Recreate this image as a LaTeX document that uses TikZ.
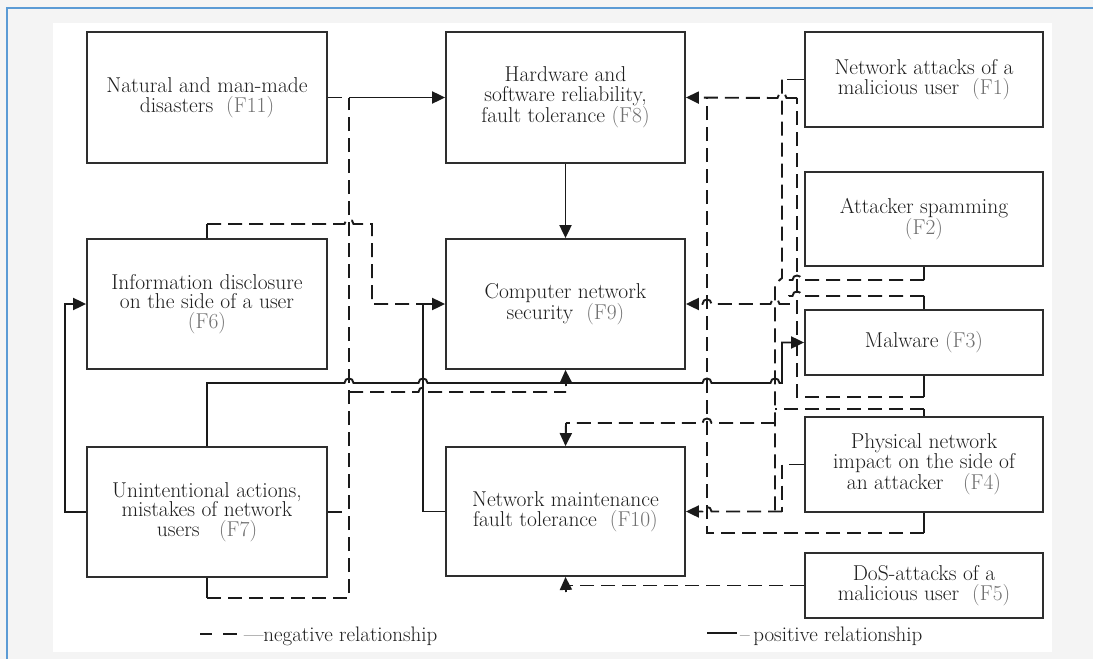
\documentclass[tikz,border=0pt]{standalone}
\usetikzlibrary{arrows.meta}
\definecolor{bgray}{HTML}{F4F4F4}
\definecolor{bluel}{HTML}{5B9BD5}
\definecolor{linec}{HTML}{1A1A1A}
\definecolor{boxc}{HTML}{2E2E2E}
\definecolor{txt}{HTML}{1E1E1E}
\definecolor{lab}{HTML}{707070}
\newcommand\flab[1]{\textcolor{lab}{(#1)}}
\newcommand\hopR[2]{-- (#1-4.5,#2) .. controls (#1-4.5,#2-6) and (#1+4.5,#2-6) .. (#1+4.5,#2)}
\newcommand\hopL[2]{-- (#1+4.5,#2) .. controls (#1+4.5,#2-6) and (#1-4.5,#2-6) .. (#1-4.5,#2)}
\tikzset{
  box/.style={draw=boxc, line width=1.8pt, fill=white, inner sep=0pt, align=center,
    text=txt, font=\fontsize{21.5}{19.5}\selectfont},
  posl/.style={draw=linec, line width=1.9pt},
  negl/.style={posl, dash pattern=on 14pt off 7pt},
  arr/.style={-{Triangle[length=13pt,width=12pt]}},
  legtext/.style={text=txt, font=\fontsize{21}{21}\selectfont, inner sep=0pt}
}
\begin{document}
\begin{tikzpicture}[x=1pt,y=-1pt]
\useasboundingbox (0,0) rectangle (1093,659);
\fill[bgray] (0,0) rectangle (1093,659);
\fill[white] (53,23) rectangle (1052,652);
\draw[bluel, line width=1.5pt] (7,659) -- (7,8) -- (1093,8);

% boxes
\node[box, minimum width=240pt, minimum height=131pt] (f11) at (207,97.5) {Natural and man-made\\disasters\ \ \flab{F11}};
\node[box, minimum width=240pt, minimum height=130pt] (f6) at (207,304) {Information disclosure\\on the side of a user\\\flab{F6}};
\node[box, minimum width=240pt, minimum height=130pt] (f7) at (207,512) {Unintentional actions,\\mistakes of network\\users\ \ \ \flab{F7}};
\node[box, minimum width=239pt, minimum height=131pt] (f8) at (565.5,97.5) {Hardware and\\software reliability,\\fault tolerance \flab{F8}};
\node[box, minimum width=239pt, minimum height=130pt] (f9) at (565.5,304) {Computer network\\security\ \ \flab{F9}};
\node[box, minimum width=239pt, minimum height=129pt] (f10) at (565.5,511.5) {Network maintenance\\fault tolerance\ \ \flab{F10}};
\node[box, minimum width=238pt, minimum height=95pt] (f1) at (924,79.5) {Network attacks of a\\malicious user\ \ \flab{F1}};
\node[box, minimum width=238pt, minimum height=94pt] (f2) at (924,219) {Attacker spamming\\\flab{F2}};
\node[box, minimum width=238pt, minimum height=65pt] (f3) at (924,342.5) {Malware \flab{F3}};
\node[box, minimum width=238pt, minimum height=95pt] (f4) at (924,464.5) {Physical network\\impact on the side of\\an attacker\ \ \ \flab{F4}};
\node[box, minimum width=238pt, minimum height=65pt] (f5) at (924,585.5) {DoS-attacks of a\\malicious user\ \ \flab{F5}};

% ---- left and centre ----
\draw[posl,arr] (f8.south) -- (f9.north);
\draw[posl,arr] (f10.west) -- (423,511.5) -- (423,304) -- (f9.west);
\draw[posl,arr] (f7.west) -- (65,512) |- (f6.west);
% F11 / F7 -> F8
\draw[negl] (f11.east) -- (349,97.5);
\draw[posl,arr] (349,97.5) -- (f8.west);
\draw[posl] (f7.east) -- (342,512);
\draw[posl] (f7.south) -- (207,598);
\draw[negl] (207,598) -- (349,598) -- (349,97.5);
\draw[negl] (349,392) \hopR{423}{392} -- (566,392);
% F6 -> F9
\draw[posl] (f6.north) -- (207,224);
\draw[negl] (207,224) \hopR{349}{224} -- (372,224) -- (372,304) -- (423,304);
% F7 trunk -> F9, F3
\draw[posl,arr] (f7.north) -- (207,383) \hopR{349}{383} \hopR{423}{383} \hopR{707}{383} \hopR{775}{383} -- (782,383) -- (782,342.5) -- (f3.west);
\draw[posl,arr] (566,386) -- (f9.south);

% ---- right side ----
% F3 bottom -> F8
\draw[posl] (f3.south) -- (924,397);
\draw[negl] (924,397) -- (797,397) -- (797,98);
\draw[negl,arr] (797,98) \hopL{782}{98} -- (f8.east);
% F4 bottom -> F8
\draw[posl] (f4.south) -- (924,533);
\draw[negl] (924,533) -- (707,533) -- (707,98);
% F1 -> bus
\draw[posl] (f1.west) -- (787,79.5);
\draw[negl] (782,79.5) -- (782,278) -- (775,284) -- (775,511.5);
% F2 -> bus
\draw[posl] (f2.south) -- (924,280);
\draw[negl] (924,280) \hopL{797}{280} -- (782,280);
% F3 top -> F9
\draw[posl] (f3.north) -- (924,296);
\draw[negl,arr] (924,296) \hopL{797}{296} -- (789,296) -- (789,304) \hopL{775}{304} \hopL{707}{304} -- (f9.east);
% F4 top -> bus
\draw[posl] (f4.north) -- (924,409);
\draw[negl] (924,409) -- (775,409);
% bus -> F10 top
\draw[negl] (775,423) \hopL{707}{423} -- (566,423);
\draw[posl,arr] (566,423) -- (f10.north);
% F4 left -> F10
\draw[posl] (f4.west) -- (789,464.5);
\draw[negl] (782,464.5) -- (782,511.5);
\draw[negl,arr] (782,511.5) -- (775,511.5) \hopL{707}{511.5} -- (f10.east);
% F5 -> F10
\draw[negl] (f5.west) -- (566,585.5);
\draw[posl,arr] (566,592) -- (f10.south);

% legend
\draw[posl] (200,634) -- (212,634);
\draw[posl] (223,634) -- (237,634);
\node[legtext, anchor=base west] (legneg) at (244,641) {\textemdash negative relationship};
\draw[posl] (707,633) -- (737,633);
\node[legtext, anchor=base west] (legpos) at (740,641) {\textendash\,positive relationship};
\end{tikzpicture}
\end{document}
